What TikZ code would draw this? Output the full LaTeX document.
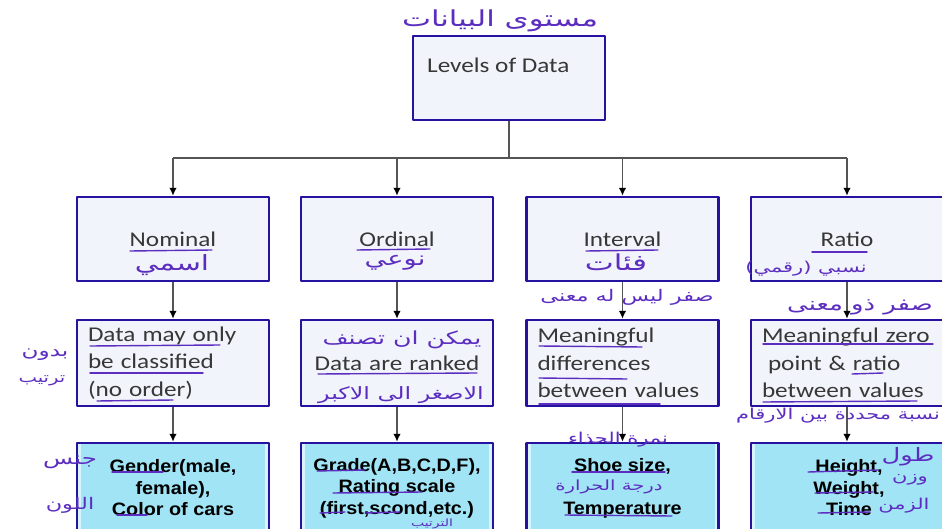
\documentclass[tikz,border=0pt]{standalone}
\usepackage{fontspec}
\newfontfamily\boxfont{Carlito}[FakeStretch=1.2]
\newfontfamily\cardfont{Liberation Sans}[FakeStretch=1.1]
\newfontfamily\inkfont[Script=Arabic,FakeStretch=1.4]{DejaVu Sans}
\newcommand\inksize[1]{\inkfont\fontsize{#1}{#1}\selectfont}
\TeXXeTstate=1
\usetikzlibrary{arrows.meta}
\definecolor{boxblue}{RGB}{38,18,160}
\definecolor{boxfill}{RGB}{241,244,250}
\definecolor{cardcyan}{RGB}{160,228,246}
\definecolor{cardband}{RGB}{216,244,252}
\definecolor{inkpurple}{RGB}{92,46,192}
\definecolor{textgray}{RGB}{55,55,55}
\definecolor{wiregray}{RGB}{85,85,85}
\tikzset{
  levelbox/.style={draw=boxblue,line width=2.4pt,fill=boxfill,minimum width=192pt,
    minimum height=84pt,inner sep=0pt,text=textgray,font=\boxfont\fontsize{21}{25}\selectfont},
  notebox/.style={levelbox,minimum height=86pt,text width=170pt,align=left,
    font=\boxfont\fontsize{21}{27.5}\selectfont},
  cardbox/.style={draw=boxblue,line width=2.4pt,fill=cardband,minimum width=192pt,
    minimum height=90pt,inner sep=0pt,align=center,text=black,
    font=\cardfont\bfseries\fontsize{18}{21.5}\selectfont,
    path picture={\fill[cardcyan] ([shift={(4pt,-4pt)}]path picture bounding box.south west)
      rectangle ([shift={(-4pt,4pt)}]path picture bounding box.north east);}},
  wire/.style={draw=wiregray,line width=1.4pt},
  inktext/.style={text=inkpurple,inner sep=0pt,font=\inksize{16}},
  inkline/.style={draw=inkpurple,line width=1.4pt,line cap=round}
}
\begin{document}
\begin{tikzpicture}[x=1pt,y=-1pt,line join=round,
  >={Latex[length=8pt,width=7.5pt,color=black]}]
  \useasboundingbox (0,0) rectangle (942,529);
  \fill[white] (0,0) rectangle (942,529);
  % top box
  \node[levelbox] (levels) at (509,78) {};
  \node[anchor=base west,inner sep=0pt,text=textgray,font=\boxfont\fontsize{21}{25}\selectfont]
    (levelsT) at (427,73) {Levels of Data};
  % first row
  \node[levelbox] (nom1) at (173,239) {Nominal};
  \node[levelbox] (ord1) at (397,239) {Ordinal};
  \node[levelbox] (int1) at (622.5,239) {Interval};
  \node[levelbox] (rat1) at (847,239) {Ratio};
  % second row
  \node[notebox] (nom2) at (173,363) {Data may only\\be classified\\(no order)};
  \node[notebox,align=center] (ord2) at (397,363) {Data are ranked};
  \node[notebox] (int2) at (622.5,363) {Meaningful\\differences\\between values};
  \node[notebox] (rat2) at (847,363) {Meaningful zero\\\hspace*{6pt}point \& ratio\\between values};
  % third row
  \node[cardbox] (nom3) at (173,488) {Gender(male,\\female),\\Color of cars};
  \node[cardbox] (ord3) at (397,488) {Grade(A,B,C,D,F),\\Rating scale\\(first,scond,etc.)};
  \node[cardbox] (int3) at (622.5,488) {Shoe size,\\\mbox{}\\Temperature};
  \node[cardbox,minimum width=196pt] (rat3) at (849,488) {Height,\\Weight,\\Time};
  % connectors
  \coordinate (bus) at (509,158);
  \draw[wire] (levels.south) -- (bus);
  \draw[wire] (bus -| nom1.north) -- (bus -| rat1.north);
  \foreach \n in {nom,ord,int,rat}{
    \draw[wire,->] (bus -| \n1.north) -- (\n1.north);
    \draw[wire,->] (\n1.south) -- (\n2.north);
    \draw[wire,->] (\n2.south) -- (\n2.south |- \n3.north);
  }
  % handwritten notes
  \node[inktext,font=\inksize{22}] (inkTitle) at (500,21) {\beginR مستوى البيانات\endR};
  \node[inktext,font=\inksize{21}] (inkNom) at (172,265) {\beginR اسمي\endR};
  \node[inktext,font=\inksize{19.5}] (inkOrd) at (395,263) {\beginR نوعي\endR};
  \node[inktext,font=\inksize{22}] (inkInt) at (616,262) {\beginR فئات\endR};
  \node[inktext,font=\inksize{15}] (inkRat) at (806,269) {\beginR نسبي (رقمي)\endR};
  \node[inktext] (inkIntZero) at (627,297) {\beginR صفر ليس له معنى\endR};
  \node[inktext,font=\inksize{18.5}] (inkRatZero) at (860,307) {\beginR صفر ذو معنى\endR};
  \node[inktext,font=\inksize{16.5}] (inkOrder1) at (45,355) {\beginR بدون\endR};
  \node[inktext,font=\inksize{14}] (inkOrder2) at (42,381) {\beginR ترتيب\endR};
  \node[inktext,font=\inksize{18}] (inkOrdTop) at (402,340) {\beginR يمكن ان تصنف\endR};
  \node[inktext,font=\inksize{17}] (inkOrdBot) at (401,395) {\beginR الاصغر الى الاكبر\endR};
  \node[inktext,font=\inksize{15}] (inkRatio) at (838,416) {\beginR نسبة محددة بين الارقام\endR};
  \node[inktext,font=\inksize{15}] (inkShoe) at (618,440) {\beginR نمرة الحذاء\endR};
  \node[inktext,font=\inksize{14}] (inkTemp) at (609,487) {\beginR درجة الحرارة\endR};
  \node[inktext,font=\inksize{17.5}] (inkGender) at (70,462) {\beginR جنس\endR};
  \node[inktext,font=\inksize{16}] (inkColor) at (70,505) {\beginR اللون\endR};
  \node[inktext,font=\inksize{10}] (inkRank) at (432,523.5) {\beginR الترتيب\endR};
  \node[inktext,font=\inksize{18.5}] (inkLen) at (908,457) {\beginR طول\endR};
  \node[inktext,font=\inksize{15}] (inkWeight) at (910,480) {\beginR وزن\endR};
  \node[inktext,font=\inksize{15}] (inkTime) at (904,506) {\beginR الزمن\endR};
  % underlines
  \draw[inkline] (130,251) -- (212,250);
  \draw[inkline] (357,250) -- (430,249);
  \draw[inkline] (586,251) -- (658,250);
  \draw[inkline] (812,252) -- (867,252);
  \draw[inkline] (90,346) -- (220,345);
  \draw[inkline] (90,373) -- (203,373);
  \draw[inkline] (97,401) -- (173,400);
  \draw[inkline] (318,374) -- (477,373);
  \draw[inkline] (539,346) -- (642,347);
  \draw[inkline] (539,378) -- (627,379);
  \draw[inkline] (539,404) -- (660,404);
  \draw[inkline] (763,344) -- (933,344);
  \draw[inkline] (852,374) -- (883,373);
  \draw[inkline] (763,402) -- (917,401);
  \draw[inkline] (112,472) -- (163,472);
  \draw[inkline] (117,515) -- (147,515);
  \draw[inkline] (317,471) -- (365,470);
  \draw[inkline] (333,493) -- (422,492);
  \draw[inkline] (320,513) -- (345,512);
  \draw[inkline] (365,513) -- (400,512);
  \draw[inkline] (572,472) -- (665,472);
  \draw[inkline] (565,515) -- (672,516);
  \draw[inkline] (808,472) -- (878,470);
  \draw[inkline] (815,493) -- (873,492);
  \draw[inkline] (818,513) -- (870,512);
\end{tikzpicture}
\end{document}
